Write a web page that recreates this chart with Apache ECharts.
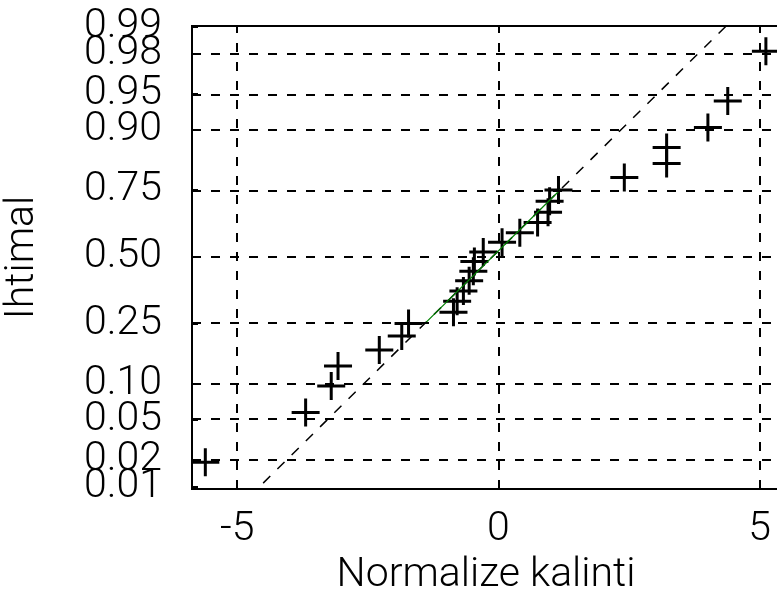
<!DOCTYPE html>
<html><head><meta charset="utf-8">
<script src="https://cdn.jsdelivr.net/npm/echarts@6/dist/echarts.min.js"></script>
<style>html,body{margin:0;padding:0;background:#fff}#c{width:777px;height:603px}</style>
</head><body><div id="c"></div>
<script>
// sorted data values (x) and their plotting probabilities (y)
const dataX = [-5.61, -3.69, -3.20, -3.07, -2.28, -1.85, -1.72, -0.86, -0.79, -0.67, -0.56, -0.48, -0.46, -0.29, 0.07, 0.41, 0.75, 0.95, 0.98, 1.15, 2.41, 3.22, 3.22, 4.01, 4.39, 5.12];
const dataP = [0.019, 0.058, 0.096, 0.135, 0.173, 0.212, 0.250, 0.288, 0.327, 0.365, 0.404, 0.442, 0.481, 0.519, 0.558, 0.596, 0.635, 0.673, 0.712, 0.750, 0.788, 0.827, 0.865, 0.904, 0.942, 0.981];
// probability-axis ticks (split into two sets so close labels are all shown)
const tickP = [0.01, 0.05, 0.10, 0.25, 0.50, 0.75, 0.90, 0.95, 0.99];
const tickLabels = ['0.01', '0.05', '0.10', '0.25', '0.50', '0.75', '0.90', '0.95', '0.99'];
const tickP2 = [0.02, 0.98];
const tickLabels2 = ['0.02', '0.98'];
const gridP = [0.02, 0.05, 0.10, 0.25, 0.50, 0.75, 0.90, 0.95, 0.98];
const xTicks = [-5, 0, 5];
// quartile reference line (25th / 75th percentile)
const quartX = [-1.41, 1.18];
const quartP = [0.25, 0.75];
const xRange = [-5.865, 5.39];
const zRange = [-2.345, 2.33];
const xName = 'Normalize kalinti';
const yName = 'Ihtimal';

// inverse standard normal CDF (probability-scale transform)
function norminv(p) {
  const a = [-3.969683028665376e+01, 2.209460984245205e+02, -2.759285104469687e+02, 1.383577518672690e+02, -3.066479806614716e+01, 2.506628277459239e+00];
  const b = [-5.447609879822406e+01, 1.615858368580409e+02, -1.556989798598866e+02, 6.680131188771972e+01, -1.328068155288572e+01];
  const c = [-7.784894002430293e-03, -3.223964580411365e-01, -2.400758277161838e+00, -2.549732539343734e+00, 4.374664141464968e+00, 2.938163982698783e+00];
  const d = [7.784695709041462e-03, 3.224671290700398e-01, 2.445134137142996e+00, 3.754408661907416e+00];
  const pl = 0.02425, ph = 1 - pl;
  let q, r;
  if (p < pl) { q = Math.sqrt(-2 * Math.log(p)); return (((((c[0]*q+c[1])*q+c[2])*q+c[3])*q+c[4])*q+c[5]) / ((((d[0]*q+d[1])*q+d[2])*q+d[3])*q+1); }
  if (p > ph) { q = Math.sqrt(-2 * Math.log(1 - p)); return -(((((c[0]*q+c[1])*q+c[2])*q+c[3])*q+c[4])*q+c[5]) / ((((d[0]*q+d[1])*q+d[2])*q+d[3])*q+1); }
  q = p - 0.5; r = q * q;
  return (((((a[0]*r+a[1])*r+a[2])*r+a[3])*r+a[4])*r+a[5])*q / (((((b[0]*r+b[1])*r+b[2])*r+b[3])*r+b[4])*r+1);
}

const tickZ = tickP.map(norminv);
const tickZ2 = tickP2.map(norminv);
const pts = dataX.map((x, i) => [x, norminv(dataP[i])]);
const qz = quartP.map(norminv);
const slope = (qz[1] - qz[0]) / (quartX[1] - quartX[0]);
const refLine = xRange.map(x => [x, qz[0] + slope * (x - quartX[0])]);
const greenLine = quartX.map((x, i) => [x, qz[i]]);

const FONT = 'Roboto';
const FW = 300;
const FS = 41;
const dash = { color: '#000', width: 2, type: [9, 10] };
function labelFor(zs, labels) {
  return v => {
    let best = 0;
    zs.forEach((z, i) => { if (Math.abs(z - v) < Math.abs(zs[best] - v)) best = i; });
    return labels[best];
  };
}
function yAxisDef(zs, labels, main) {
  return {
    type: 'value', min: zRange[0], max: zRange[1], position: 'left', offset: 0,
    name: main ? yName : '', nameLocation: 'middle', nameGap: 149, nameRotate: 90,
    nameTextStyle: { fontFamily: FONT, fontWeight: FW, fontSize: FS, color: '#000' },
    axisLine: { show: main, onZero: false, lineStyle: { color: '#000', width: 2 } },
    axisTick: { show: true, inside: true, length: 6, customValues: zs, lineStyle: { color: '#000', width: 2 } },
    axisLabel: {
      customValues: zs, margin: 30, hideOverlap: false, showMinLabel: true, showMaxLabel: true,
      fontFamily: FONT, fontWeight: FW, fontSize: FS, color: '#000', formatter: labelFor(zs, labels)
    },
    splitLine: { show: false }
  };
}

const chart = echarts.init(document.getElementById('c'), null, { renderer: 'canvas' });
chart.setOption({
  animation: false,
  backgroundColor: '#fff',
  grid: { left: 192, top: 26, width: 588, height: 463, show: true, borderColor: '#000', borderWidth: 2, backgroundColor: '#fff', containLabel: false, outerBoundsMode: 'none' },
  xAxis: {
    type: 'value', min: xRange[0], max: xRange[1],
    name: xName, nameLocation: 'middle', nameGap: 62,
    nameTextStyle: { fontFamily: FONT, fontWeight: FW, fontSize: FS, color: '#000' },
    axisLine: { show: true, onZero: false, lineStyle: { color: '#000', width: 2 } },
    axisTick: { show: true, inside: true, length: 6, customValues: xTicks, lineStyle: { color: '#000', width: 2 } },
    axisLabel: { customValues: xTicks, margin: 20, hideOverlap: false, showMinLabel: true, showMaxLabel: true, fontFamily: FONT, fontWeight: FW, fontSize: FS, color: '#000', formatter: v => String(v) },
    splitLine: { show: false }
  },
  yAxis: [yAxisDef(tickZ, tickLabels, true), yAxisDef(tickZ2, tickLabels2, false)],
  series: [
    {
      type: 'line', data: [], z: 1, silent: true, yAxisIndex: 0,
      markLine: {
        silent: true, symbol: 'none', animation: false,
        label: { show: false },
        lineStyle: dash,
        data: gridP.map(p => ({ yAxis: norminv(p) })).concat(xTicks.map(x => ({ xAxis: x })))
      }
    },
    {
      type: 'scatter', data: pts, z: 2, silent: true, yAxisIndex: 0,
      symbol: 'path://M0,12.5H28V15.5H0Z M12.5,0H15.5V28H12.5Z',
      symbolSize: 28,
      itemStyle: { color: '#000', opacity: 1 }
    },
    {
      type: 'line', data: refLine, z: 3, silent: true, showSymbol: false, symbol: 'none', yAxisIndex: 0,
      lineStyle: { color: '#000', width: 1.5, type: [10, 10] }
    },
    {
      type: 'line', data: greenLine, z: 4, silent: true, showSymbol: false, symbol: 'none', yAxisIndex: 0,
      lineStyle: { color: '#008000', width: 1.2 }
    }
  ]
});
</script>
</body></html>
